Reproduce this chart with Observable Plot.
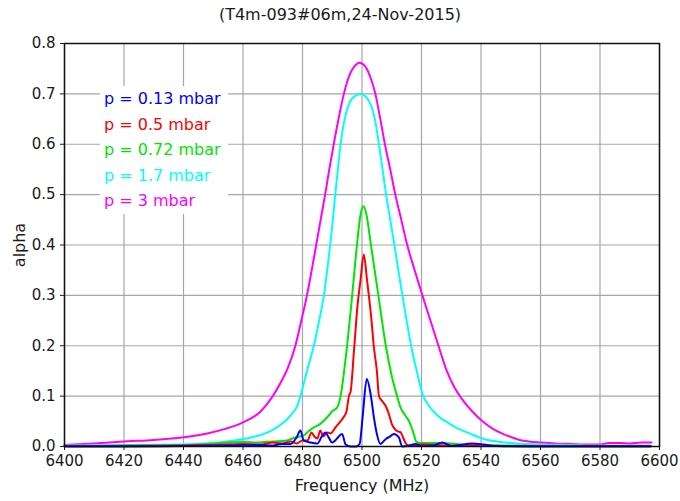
<!DOCTYPE html>
<html>
<head>
<meta charset="utf-8">
<script src="https://cdn.jsdelivr.net/npm/d3@7"></script>
<script src="https://cdn.jsdelivr.net/npm/@observablehq/plot@0.6"></script>
<style>
  html, body { margin: 0; padding: 0; background: #fff; }
  #wrap { position: relative; width: 680px; height: 501px; font-family: "DejaVu Sans", sans-serif; color: #1a1a1a; }
  #title { height: 28px; line-height: 30px; text-align: center; font-size: 16px; }
  #legend { position: absolute; left: 100px; top: 86px; width: 124px; background: #fff; padding: 0 0 0 4px; font-size: 16px; line-height: 25.5px; }
  #legend div { white-space: nowrap; }
</style>
</head>
<body>
<div id="wrap">
  <div id="title">(T4m-093#06m,24-Nov-2015)</div>
  <div id="chart"></div>
  <div id="legend"></div>
</div>
<script>
// Tick values
const xTicks = [6400, 6420, 6440, 6460, 6480, 6500, 6520, 6540, 6560, 6580, 6600];
const yTicks = [0, 0.1, 0.2, 0.3, 0.4, 0.5, 0.6, 0.7, 0.8];

// Series labels and colours
const seriesNames = ["p = 0.13 mbar", "p = 0.5 mbar", "p = 0.72 mbar", "p = 1.7 mbar", "p = 3 mbar"];
const seriesColors = ["#0000ff", "#ff0000", "#00e600", "#00ffff", "#ff00ff"];

// p = 3 mbar (magenta)
const f3 = [6400,6410,6420,6430,6436,6442,6448,6454,6460,6466,6470,6472.5,6475,6477.6,6479.6,6481.5,6483.1,6484.6,6486.1,6487.6,6489,6490.5,6492.1,6493.9,6496,6497.5,6499.2,6501,6503,6504.5,6506,6507.7,6509.5,6511.2,6513.2,6515.2,6517.7,6520.3,6523,6525.7,6528.5,6531,6533.5,6537,6540.5,6544,6547,6550,6553,6556,6560,6565,6570,6575,6580,6583,6587,6590,6594,6597.3];
const a3 = [0.003,0.006,0.01,0.013,0.016,0.02,0.026,0.035,0.048,0.07,0.1,0.125,0.155,0.2,0.25,0.3,0.35,0.4,0.45,0.5,0.55,0.6,0.65,0.7,0.74,0.755,0.762,0.755,0.73,0.7,0.655,0.6,0.55,0.5,0.45,0.4,0.35,0.3,0.25,0.2,0.15,0.118,0.095,0.07,0.05,0.035,0.026,0.019,0.013,0.01,0.008,0.006,0.005,0.004,0.004,0.007,0.007,0.006,0.008,0.008];

// p = 1.7 mbar (cyan)
const f17 = [6400,6420,6440,6450,6457,6462,6467,6470,6473.7,6476,6478.2,6479.3,6481.5,6483.8,6485.6,6487.2,6488.3,6489.3,6490.2,6491,6491.9,6492.8,6494,6495.2,6497,6499.5,6501.5,6503.3,6504.5,6505.7,6506.9,6508.1,6509.5,6510.9,6512.2,6513.6,6515,6516.5,6518.4,6520.6,6522,6524,6526.5,6529.5,6532.5,6536.5,6541,6546.6,6552,6560,6570,6580,6590,6597];
const a17 = [0.002,0.003,0.004,0.007,0.012,0.017,0.025,0.033,0.048,0.062,0.08,0.1,0.15,0.2,0.25,0.3,0.35,0.4,0.45,0.5,0.55,0.6,0.645,0.673,0.693,0.70,0.693,0.673,0.645,0.6,0.55,0.5,0.45,0.4,0.35,0.3,0.25,0.2,0.15,0.1,0.085,0.07,0.056,0.045,0.035,0.025,0.015,0.009,0.006,0.004,0.003,0.002,0.002,0.002];

// p = 0.72 mbar (green)
const f072 = [6400,6410,6420,6430,6440,6448,6455,6460,6465,6470,6474.8,6477,6480.4,6482,6483.8,6486,6488.3,6490,6491.7,6492.8,6494,6495,6496.7,6498.3,6499.5,6500.5,6501.5,6503,6505.5,6508,6510,6511.8,6512.9,6514.5,6516,6517.4,6518.3,6520,6525,6530,6533,6540,6550,6560,6570,6580,6590,6597];
const a072 = [0.001,0.001,0.002,0.002,0.003,0.005,0.008,0.009,0.008,0.01,0.012,0.017,0.022,0.03,0.038,0.045,0.058,0.07,0.078,0.1,0.15,0.2,0.3,0.4,0.46,0.477,0.46,0.4,0.3,0.2,0.14,0.1,0.078,0.062,0.048,0.025,0.009,0.007,0.007,0.006,0.004,0.002,0.002,0.001,0.001,0.001,0.001,0.001];

// p = 0.5 mbar (red)
const f05 = [6400,6420,6440,6450,6460,6466,6470,6473,6476,6478,6480,6481.7,6483,6484,6485,6486,6487,6488.3,6489.5,6491.1,6492.5,6494,6494.8,6495.6,6496.2,6497.3,6498.5,6499.5,6500.6,6501.7,6502.3,6503.2,6504,6505,6505.7,6506.8,6508,6509,6510,6511,6512,6513,6514,6515,6516,6520,6525,6530,6540,6550,6560,6580,6597];
const a05 = [0.001,0.001,0.002,0.003,0.005,0.004,0.008,0.006,0.01,0.006,0.012,0.012,0.028,0.02,0.016,0.032,0.02,0.028,0.026,0.038,0.048,0.06,0.07,0.1,0.11,0.19,0.28,0.33,0.381,0.33,0.3,0.25,0.197,0.15,0.1,0.09,0.08,0.065,0.045,0.035,0.03,0.028,0.015,0.004,0.002,0.004,0.003,0.002,0.002,0.001,0.001,0.001,0.001];

// p = 0.13 mbar (blue)
const f013 = [6400,6420,6440,6455,6465,6470,6473,6476,6478,6479.3,6480.4,6482.7,6485,6486.5,6487.7,6488.8,6490,6491,6492.2,6493.3,6494.5,6496.2,6498,6499.2,6500.2,6501.6,6503,6504,6505,6506.2,6508,6509.5,6510.7,6512.4,6513.5,6516,6518,6520,6524,6527,6530,6537,6541,6545,6560,6580,6597];
const a013 = [0,0,0.001,0.002,0.003,0.002,0.005,0.005,0.018,0.032,0.012,0.008,0.006,0.02,0.028,0.018,0.008,0.012,0.02,0.025,0.004,0,0,0.005,0.058,0.134,0.1,0.058,0.025,0.005,0.015,0.02,0.025,0.018,0,0.002,0.005,0.001,0.002,0.008,0.001,0.006,0.004,0.001,0,0,0];

const toRows = (fs, as) => fs.map((f, i) => ({f, v: as[i]}));
const series = [
  {rows: toRows(f3, a3), color: seriesColors[4]},
  {rows: toRows(f17, a17), color: seriesColors[3]},
  {rows: toRows(f072, a072), color: seriesColors[2]},
  {rows: toRows(f05, a05), color: seriesColors[1]},
  {rows: toRows(f013, a013), color: seriesColors[0]}
];

const chart = Plot.plot({
  width: 680,
  height: 473,
  marginTop: 15,
  marginLeft: 64,
  marginRight: 21,
  marginBottom: 55,
  style: {fontFamily: "DejaVu Sans, sans-serif", fontSize: "15px", color: "#1a1a1a", background: "#fff"},
  x: {domain: [6400, 6600], ticks: xTicks, tickSize: 4, tickFormat: d => String(d), label: "Frequency (MHz)", labelAnchor: "center", labelOffset: 44, labelArrow: false},
  y: {domain: [0, 0.8], ticks: yTicks, tickSize: 4, tickFormat: d3.format(".1f"), label: "alpha", labelAnchor: "center", labelOffset: 51, labelArrow: false},
  marks: [
    Plot.ruleX(xTicks, {stroke: "#a6a6a6", strokeWidth: 1.2}),
    Plot.ruleY(yTicks, {stroke: "#a6a6a6", strokeWidth: 1.2}),
    ...series.map(s => Plot.line(s.rows, {x: "f", y: "v", stroke: s.color, strokeWidth: 2, curve: "monotone-x"})),
    Plot.frame({stroke: "#111", strokeWidth: 1.5})
  ]
});
// Axis titles slightly larger than tick labels, as in the reference
chart.querySelectorAll("text").forEach(t => {
  if (t.textContent === "Frequency (MHz)" || t.textContent === "alpha") t.setAttribute("font-size", "16");
});
document.getElementById("chart").appendChild(chart);

const legend = document.getElementById("legend");
seriesNames.forEach((name, i) => {
  const d = document.createElement("div");
  d.textContent = name;
  d.style.color = seriesColors[i];
  legend.appendChild(d);
});
</script>
</body>
</html>
